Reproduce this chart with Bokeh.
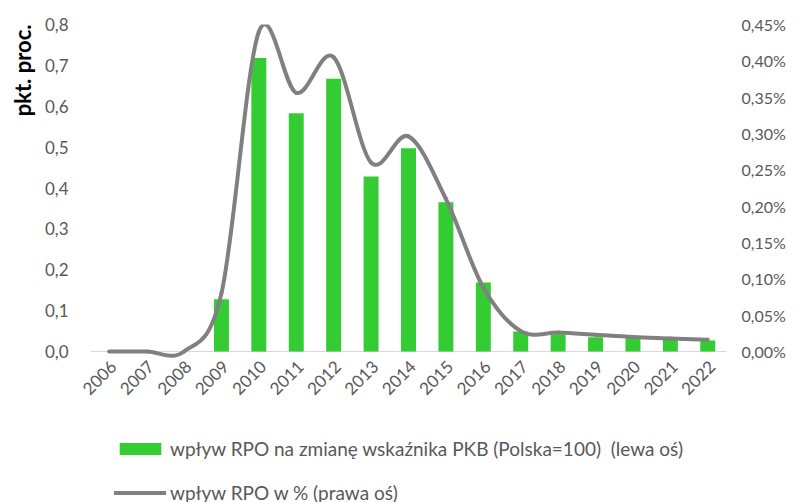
import math
from bokeh.plotting import figure
from bokeh.models import (Range1d, LinearAxis, FixedTicker, CustomJSTickFormatter,
                          Legend, LegendItem, Title, ColumnDataSource)
from bokeh.core.properties import value
from bokeh.embed import file_html
from bokeh.resources import INLINE

years = ["2006", "2007", "2008", "2009", "2010", "2011", "2012", "2013", "2014",
         "2015", "2016", "2017", "2018", "2019", "2020", "2021", "2022"]
bar_values = [0.0, 0.0, 0.0, 0.128, 0.718, 0.583, 0.667, 0.428, 0.497,
              0.365, 0.169, 0.049, 0.042, 0.035, 0.034, 0.032, 0.027]
line_values = [0.0, 0.0, 0.0, 0.08, 0.44, 0.356, 0.405, 0.26, 0.296,
               0.21, 0.088, 0.028, 0.026, 0.023, 0.020, 0.018, 0.016]
left_ticks = [0.0, 0.1, 0.2, 0.3, 0.4, 0.5, 0.6, 0.7, 0.8]
right_ticks = [0.0, 0.05, 0.10, 0.15, 0.20, 0.25, 0.30, 0.35, 0.40, 0.45]
bar_label = "wpływ RPO na zmianę wskaźnika PKB (Polska=100)  (lewa oś)"
line_label = "wpływ RPO w % (prawa oś)"
y_label = "pkt. proc."

FONT = "Lato"
GREY_TXT = "#595959"
GREEN = "#33CC33"
LINE_GREY = "#808080"

# layout (pixels)
W, H = 798, 502
CAT_LEFT, CAT_RIGHT = 89, 726     # pixel extent of the category band
LEFT, RIGHT, TOP = 76, W - CAT_RIGHT, 24
AXIS_PX = 327                     # height of the 0..max part of the value axes
FRAME_H = H - TOP                 # frame reaches the bottom (legend lives inside it)
below_frac = (FRAME_H - AXIS_PX) / AXIS_PX

LMAX, RMAX = 0.8, 0.45
ncat = len(years)
xs = list(range(ncat))
px_per_cat = (CAT_RIGHT - CAT_LEFT) / ncat
x_start = -0.5 - (CAT_LEFT - LEFT) / px_per_cat

p = figure(width=W, height=H, output_backend="svg", toolbar_location=None,
           x_range=Range1d(x_start, ncat - 0.5),
           y_range=Range1d(-LMAX * below_frac, LMAX),
           min_border_left=LEFT, min_border_right=RIGHT, min_border_top=TOP,
           min_border_bottom=0, outline_line_color=None)
p.extra_y_ranges = {"right": Range1d(-RMAX * below_frac, RMAX)}
p.xgrid.visible = False
p.ygrid.visible = False
p.xaxis.visible = False

# category axis line
p.segment(x0=[-0.5], x1=[ncat - 0.5], y0=[0], y1=[0], line_color="#D9D9D9", line_width=1)

bars = p.vbar(x=xs, top=bar_values, width=0.4, fill_color=GREEN, line_color=None)

# smoothed line (Catmull-Rom style Bezier segments through data points)
seg = dict(x0=[], y0=[], x1=[], y1=[], cx0=[], cy0=[], cx1=[], cy1=[])
for i in range(ncat - 1):
    xa = xs[i - 1] if i > 0 else xs[i]
    ya = line_values[i - 1] if i > 0 else line_values[i]
    xd = xs[i + 2] if i + 2 < ncat else xs[i + 1]
    yd = line_values[i + 2] if i + 2 < ncat else line_values[i + 1]
    seg["x0"].append(xs[i]); seg["y0"].append(line_values[i])
    seg["x1"].append(xs[i + 1]); seg["y1"].append(line_values[i + 1])
    seg["cx0"].append(xs[i] + (xs[i + 1] - xa) / 6)
    seg["cy0"].append(line_values[i] + (line_values[i + 1] - ya) / 6)
    seg["cx1"].append(xs[i + 1] - (xd - xs[i]) / 6)
    seg["cy1"].append(line_values[i + 1] - (yd - line_values[i]) / 6)
p.bezier(source=ColumnDataSource(seg), x0="x0", y0="y0", x1="x1", y1="y1",
         cx0="cx0", cy0="cy0", cx1="cx1", cy1="cy1", y_range_name="right",
         line_color=LINE_GREY, line_width=4, line_cap="round")
legend_line = p.line(x=xs, y=line_values, y_range_name="right",
                     line_color=LINE_GREY, line_width=4, line_cap="round")
legend_line.visible = False

# category labels (rotated), anchored at the category axis
p.text(x=xs, y=[0] * ncat, text=years, angle=math.pi / 4,
       x_offset=4, y_offset=12, text_align="right", text_baseline="middle",
       text_font=value(FONT), text_font_size="17px", text_color=GREY_TXT)

ya_ = p.yaxis[0]
ya_.ticker = FixedTicker(ticks=left_ticks)
ya_.formatter = CustomJSTickFormatter(code="return tick.toFixed(1).replace('.', ',');")
ya_.axis_line_color = None
ya_.major_tick_line_color = None
ya_.minor_tick_line_color = None
ya_.major_label_text_font = FONT
ya_.major_label_text_font_size = "17px"
ya_.major_label_text_color = GREY_TXT
ya_.major_label_standoff = 3

ry = LinearAxis(y_range_name="right")
ry.ticker = FixedTicker(ticks=right_ticks)
ry.formatter = CustomJSTickFormatter(code="return tick.toFixed(2).replace('.', ',') + '%';")
ry.axis_line_color = None
ry.major_tick_line_color = None
ry.minor_tick_line_color = None
ry.major_label_text_font = FONT
ry.major_label_text_font_size = "16px"
ry.major_label_text_color = GREY_TXT
ry.major_label_standoff = 9
p.add_layout(ry, "right")

p.add_layout(Title(text=y_label, align="right", text_font=FONT,
                   text_font_style="bold", text_font_size="22px",
                   text_color="black", standoff=12, offset=0), "left")

legend = Legend(items=[LegendItem(label=bar_label, renderers=[bars]),
                       LegendItem(label=line_label, renderers=[legend_line])],
                location=(37, -2), orientation="vertical",
                glyph_width=52, glyph_height=15, label_height=15, spacing=21,
                label_standoff=4, padding=0, margin=0,
                border_line_color=None, background_fill_alpha=0,
                label_text_font=FONT, label_text_font_size="19px",
                label_text_color=GREY_TXT)
p.add_layout(legend, "center")

open("out.html", "w").write(file_html(p, INLINE))
